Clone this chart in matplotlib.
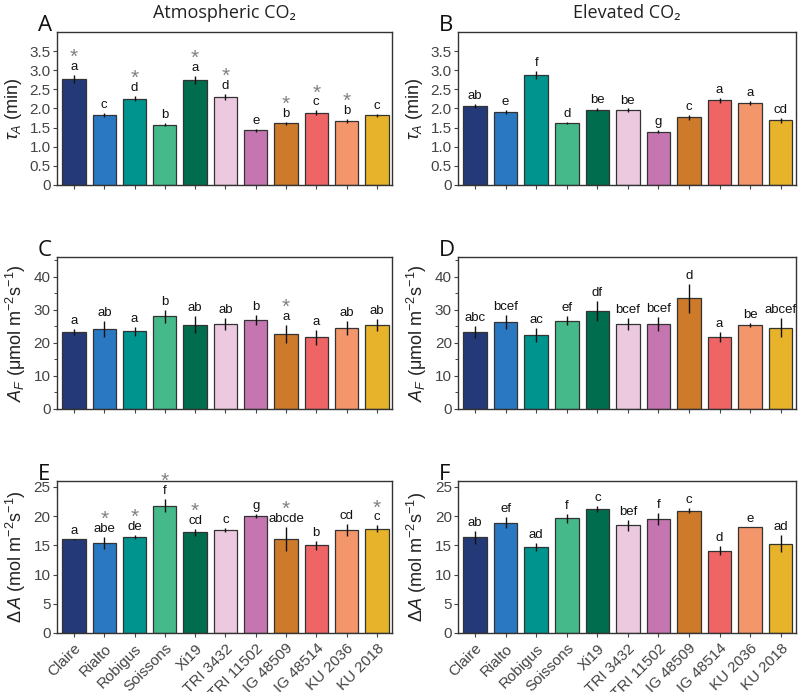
import matplotlib
matplotlib.use("Agg")
import matplotlib.pyplot as plt
from matplotlib.ticker import FuncFormatter, MultipleLocator, FixedLocator
import numpy as np

plt.rcParams['font.family'] = ['Liberation Sans', 'DejaVu Sans']
plt.rcParams['mathtext.fontset'] = 'custom'
plt.rcParams['mathtext.rm'] = 'Liberation Sans'
plt.rcParams['mathtext.it'] = 'Liberation Sans:italic'
plt.rcParams['mathtext.bf'] = 'Liberation Sans:bold'

cultivars = ["Claire", "Rialto", "Robigus", "Soissons", "Xi19", "TRI 3432",
             "TRI 11502", "IG 48509", "IG 48514", "KU 2036", "KU 2018"]
colors = ["#243a78", "#2b78c2", "#00948f", "#45b98a", "#006d4f", "#edc9e0",
          "#c576b1", "#cd7b2b", "#ef6565", "#f4966b", "#e7b32b"]

# Panel A: tau_A, atmospheric CO2
tauA_atm = [2.77, 1.83, 2.26, 1.58, 2.75, 2.30, 1.43, 1.61, 1.89, 1.67, 1.82]
tauA_atm_err = [0.11, 0.05, 0.06, 0.03, 0.10, 0.08, 0.04, 0.04, 0.06, 0.05, 0.04]
tauA_atm_let = ["a", "c", "d", "b", "a", "d", "e", "b", "c", "b", "c"]
tauA_atm_star = [1, 0, 1, 0, 1, 1, 0, 1, 1, 1, 0]

# Panel B: tau_A, elevated CO2
tauA_el = [2.06, 1.91, 2.88, 1.62, 1.97, 1.95, 1.39, 1.77, 2.21, 2.14, 1.69]
tauA_el_err = [0.05, 0.05, 0.10, 0.03, 0.04, 0.05, 0.04, 0.06, 0.07, 0.05, 0.06]
tauA_el_let = ["ab", "e", "f", "d", "be", "be", "g", "c", "a", "a", "cd"]

# Panel C: A_F, atmospheric CO2
AF_atm = [23.4, 24.2, 23.5, 28.1, 25.5, 25.7, 26.9, 22.8, 21.7, 24.5, 25.4]
AF_atm_err = [0.9, 2.3, 1.3, 2.0, 2.5, 1.8, 1.5, 2.7, 2.3, 2.0, 1.8]
AF_atm_let = ["a", "ab", "a", "b", "ab", "ab", "b", "a", "a", "ab", "ab"]
AF_atm_star = [0, 0, 0, 0, 0, 0, 0, 1, 0, 0, 0]

# Panel D: A_F, elevated CO2
AF_el = [23.4, 26.3, 22.4, 26.7, 29.7, 25.8, 25.7, 33.5, 21.7, 25.4, 24.6]
AF_el_err = [1.8, 2.2, 2.0, 1.4, 3.0, 1.8, 2.0, 4.4, 1.5, 0.7, 2.8]
AF_el_let = ["abc", "bcef", "ac", "ef", "df", "bcef", "bcef", "d", "a", "be", "abcef"]

# Panel E: Delta A, atmospheric CO2
dA_atm = [16.0, 15.4, 16.4, 21.8, 17.2, 17.6, 20.0, 16.1, 15.0, 17.6, 17.8]
dA_atm_err = [0.1, 1.0, 0.4, 1.1, 0.6, 0.4, 0.4, 2.1, 0.8, 1.0, 0.6]
dA_atm_let = ["a", "abe", "de", "f", "cd", "c", "g", "abcde", "b", "cd", "c"]
dA_atm_star = [0, 1, 1, 1, 1, 0, 0, 1, 0, 0, 1]

# Panel F: Delta A, elevated CO2
dA_el = [16.4, 18.9, 14.7, 19.6, 21.2, 18.4, 19.5, 20.9, 14.1, 18.1, 15.3]
dA_el_err = [1.1, 1.0, 0.7, 0.8, 0.5, 1.0, 1.0, 0.4, 0.7, 0.05, 1.5]
dA_el_let = ["ab", "ef", "ad", "f", "c", "bef", "f", "c", "d", "e", "ad"]

W, H = 800, 692
fig = plt.figure(figsize=(W / 100, H / 100), dpi=100)

def box(l, r, t, b):
    return [l / W, 1 - b / H, (r - l) / W, (b - t) / H]

tau_ticks = [0, 0.5, 1.0, 1.5, 2.0, 2.5, 3.0, 3.5]
af_ticks = [0, 10, 20, 30, 40]
da_ticks = [0, 5, 10, 15, 20, 25]

panels = [
    dict(pos=box(57, 392, 32, 185), v=tauA_atm, e=tauA_atm_err, let=tauA_atm_let, star=tauA_atm_star,
         ylim=4.0, ticks=tau_ticks, minor=None, lab="A", ylabel=r"$\tau_A$ (min)", fmt="f1", xt=False),
    dict(pos=box(458, 796, 32, 185), v=tauA_el, e=tauA_el_err, let=tauA_el_let, star=None,
         ylim=4.0, ticks=tau_ticks, minor=None, lab="B", ylabel=r"$\tau_A$ (min)", fmt="f1", xt=False),
    dict(pos=box(57, 392, 257, 409), v=AF_atm, e=AF_atm_err, let=AF_atm_let, star=AF_atm_star,
         ylim=46, ticks=af_ticks, minor=5, lab="C", ylabel=r"$A_F$ (μmol m$^{-2}$s$^{-1}$)", fmt="int", xt=False),
    dict(pos=box(458, 796, 257, 409), v=AF_el, e=AF_el_err, let=AF_el_let, star=None,
         ylim=46, ticks=af_ticks, minor=5, lab="D", ylabel=r"$A_F$ (μmol m$^{-2}$s$^{-1}$)", fmt="int", xt=False),
    dict(pos=box(57, 392, 481, 633), v=dA_atm, e=dA_atm_err, let=dA_atm_let, star=dA_atm_star,
         ylim=26, ticks=da_ticks, minor=None, lab="E", ylabel=r"$\Delta\,A$ (mol m$^{-2}$s$^{-1}$)", fmt="int", xt=True),
    dict(pos=box(458, 796, 481, 633), v=dA_el, e=dA_el_err, let=dA_el_let, star=None,
         ylim=26, ticks=da_ticks, minor=None, lab="F", ylabel=r"$\Delta A$ (mol m$^{-2}$s$^{-1}$)", fmt="int", xt=True),
]

x = np.arange(len(cultivars))
for p in panels:
    ax = fig.add_axes(p["pos"])
    ax.bar(x, p["v"], width=0.77, color=colors, edgecolor="#333333", linewidth=0.9, zorder=2)
    v = np.array(p["v"]); e = np.array(p["e"])
    ax.vlines(x, v - e, v + e, colors="#111111", linewidth=1.0, zorder=3)
    ax.set_xlim(-0.56, 10.5)
    ax.set_ylim(0, p["ylim"])
    ax.yaxis.set_major_locator(FixedLocator(p["ticks"]))
    if p["minor"]:
        ax.yaxis.set_minor_locator(MultipleLocator(p["minor"]))
        ax.tick_params(axis="y", which="minor", length=2, width=0.7, color="#444444")
    if p["fmt"] == "f1":
        ax.yaxis.set_major_formatter(FuncFormatter(lambda t, pos: "0" if abs(t) < 1e-9 else f"{t:.1f}"))
    else:
        ax.yaxis.set_major_formatter(FuncFormatter(lambda t, pos: f"{int(round(t))}"))
    ax.set_xticks(x)
    if p["xt"]:
        ax.set_xticklabels(cultivars, rotation=45, ha="right", rotation_mode="anchor",
                           fontsize=11, color="#444444")
    else:
        ax.set_xticklabels([])
    ax.tick_params(axis="both", which="major", direction="out", length=3, width=0.8,
                   color="#444444", labelsize=11, labelcolor="#444444", pad=1.5)
    ax.tick_params(axis="x", pad=3)
    for s in ax.spines.values():
        s.set_color("#333333"); s.set_linewidth(1.0)
    ax.set_ylabel(p["ylabel"], fontsize=13, color="#222222", labelpad=4)
    ax.text(-0.057, 1.008, p["lab"], transform=ax.transAxes, fontsize=16,
            family=["Open Sans", "DejaVu Sans"], va="baseline", ha="left", color="#111111")
    for i in range(len(cultivars)):
        top = v[i] + e[i]
        ax.annotate(p["let"][i], (x[i], top), xytext=(0, 5), textcoords="offset pixels",
                    ha="center", va="baseline", fontsize=9.5, color="#111111", zorder=4)
        if p["star"] is not None and p["star"][i]:
            ax.annotate("*", (x[i], top), xytext=(0, 12), textcoords="offset pixels",
                        ha="center", va="baseline", fontsize=15, color="#808080", zorder=4)

fig.text((57 + 392) / 2 / W, 1 - 13 / H, "Atmospheric CO₂", ha="center", va="center",
         fontsize=13, family=["Open Sans", "DejaVu Sans"], color="#222222")
fig.text((458 + 796) / 2 / W, 1 - 13 / H, "Elevated CO₂", ha="center", va="center",
         fontsize=13, family=["Open Sans", "DejaVu Sans"], color="#222222")

fig.savefig("out.png", dpi=100)
